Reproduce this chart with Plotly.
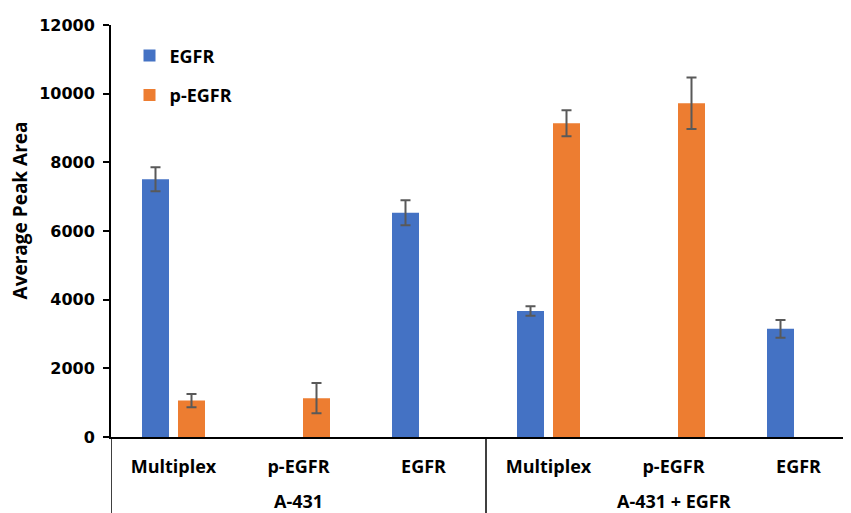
import plotly.graph_objects as go

groups = ["A-431", "A-431", "A-431", "A-431 + EGFR", "A-431 + EGFR", "A-431 + EGFR"]
samples = ["Multiplex", "p-EGFR", "EGFR", "Multiplex", "p-EGFR", "EGFR"]

egfr_vals = [7510, None, 6530, 3670, None, 3150]
egfr_err = [350, 0, 365, 135, 0, 260]
pegfr_vals = [1060, 1130, None, 9140, 9720, None]
pegfr_err = [190, 440, 0, 380, 750, 0]

yticks = [0, 2000, 4000, 6000, 8000, 10000, 12000]

FONT = "Open Sans"
BLUE = "#4472C4"
ORANGE = "#ED7D31"
ERR = "#595959"

# unique category keys built from the two label levels
xcat = [f"{g}|{s}" for g, s in zip(groups, samples)]

# group centres and boundaries (in category-index units)
group_names = []
group_idx = {}
for i, g in enumerate(groups):
    if g not in group_idx:
        group_names.append(g)
        group_idx[g] = []
    group_idx[g].append(i)
group_centers = [sum(group_idx[g]) / len(group_idx[g]) for g in group_names]
group_bounds = [min(group_idx[g]) - 0.5 for g in group_names]

xrange_ = [-0.5, 5.42]

fig = go.Figure()
fig.add_trace(go.Bar(
    x=xcat, y=egfr_vals, name="EGFR",
    marker=dict(color=BLUE, line=dict(width=0)),
    error_y=dict(type="data", array=egfr_err, visible=True, color=ERR, thickness=2, width=5),
    legendgroup="a",
))
fig.add_trace(go.Bar(
    x=xcat, y=pegfr_vals, name="p-EGFR",
    marker=dict(color=ORANGE, line=dict(width=0)),
    error_y=dict(type="data", array=pegfr_err, visible=True, color=ERR, thickness=2, width=5),
    legendgroup="b",
))

shapes = [
    dict(type="line", xref="x", yref="paper", x0=b, x1=b, y0=0, y1=-0.2,
         line=dict(color="black", width=1.5))
    for b in group_bounds
]

annotations = [
    dict(text=name, xref="x", yref="paper", x=c, y=-0.156,
         xanchor="center", yanchor="middle", showarrow=False,
         font=dict(family=FONT, size=18, color="black", weight="bold"))
    for name, c in zip(group_names, group_centers)
]
annotations.append(dict(
    text="Average Peak Area", textangle=-90,
    xref="paper", yref="paper", x=-0.1235, y=0.549,
    xanchor="center", yanchor="middle", showarrow=False,
    font=dict(family=FONT, size=19, color="black", weight="bold"),
))

fig.update_layout(
    width=851, height=513,
    margin=dict(l=103, r=8, t=12, b=84),
    paper_bgcolor="white", plot_bgcolor="white",
    barmode="group", bargap=0.424, bargroupgap=0.25,
    font=dict(family=FONT, color="black"),
    showlegend=True,
    legend=dict(
        x=0.025, y=0.97, xanchor="left", yanchor="top",
        bgcolor="rgba(0,0,0,0)", tracegroupgap=13,
        font=dict(family=FONT, size=18, color="black", weight="bold"),
    ),
    xaxis=dict(
        type="category", categoryorder="array", categoryarray=xcat,
        range=xrange_,
        tickvals=xcat, ticktext=samples,
        showline=True, linecolor="black", linewidth=2,
        ticks="", showgrid=False, zeroline=False,
        ticklabelstandoff=12,
        tickfont=dict(family=FONT, size=18, color="black", weight="bold"),
    ),
    yaxis=dict(
        range=[0, 12000], tickvals=yticks, tickformat="d",
        showline=True, linecolor="black", linewidth=2,
        ticks="outside", ticklen=6, tickwidth=1.5, tickcolor="black",
        ticklabelstandoff=5,
        showgrid=False, zeroline=False,
        tickfont=dict(family="DejaVu Sans", size=16, color="black", weight="bold"),
    ),
    shapes=shapes,
    annotations=annotations,
)

fig.write_html("out.html")
